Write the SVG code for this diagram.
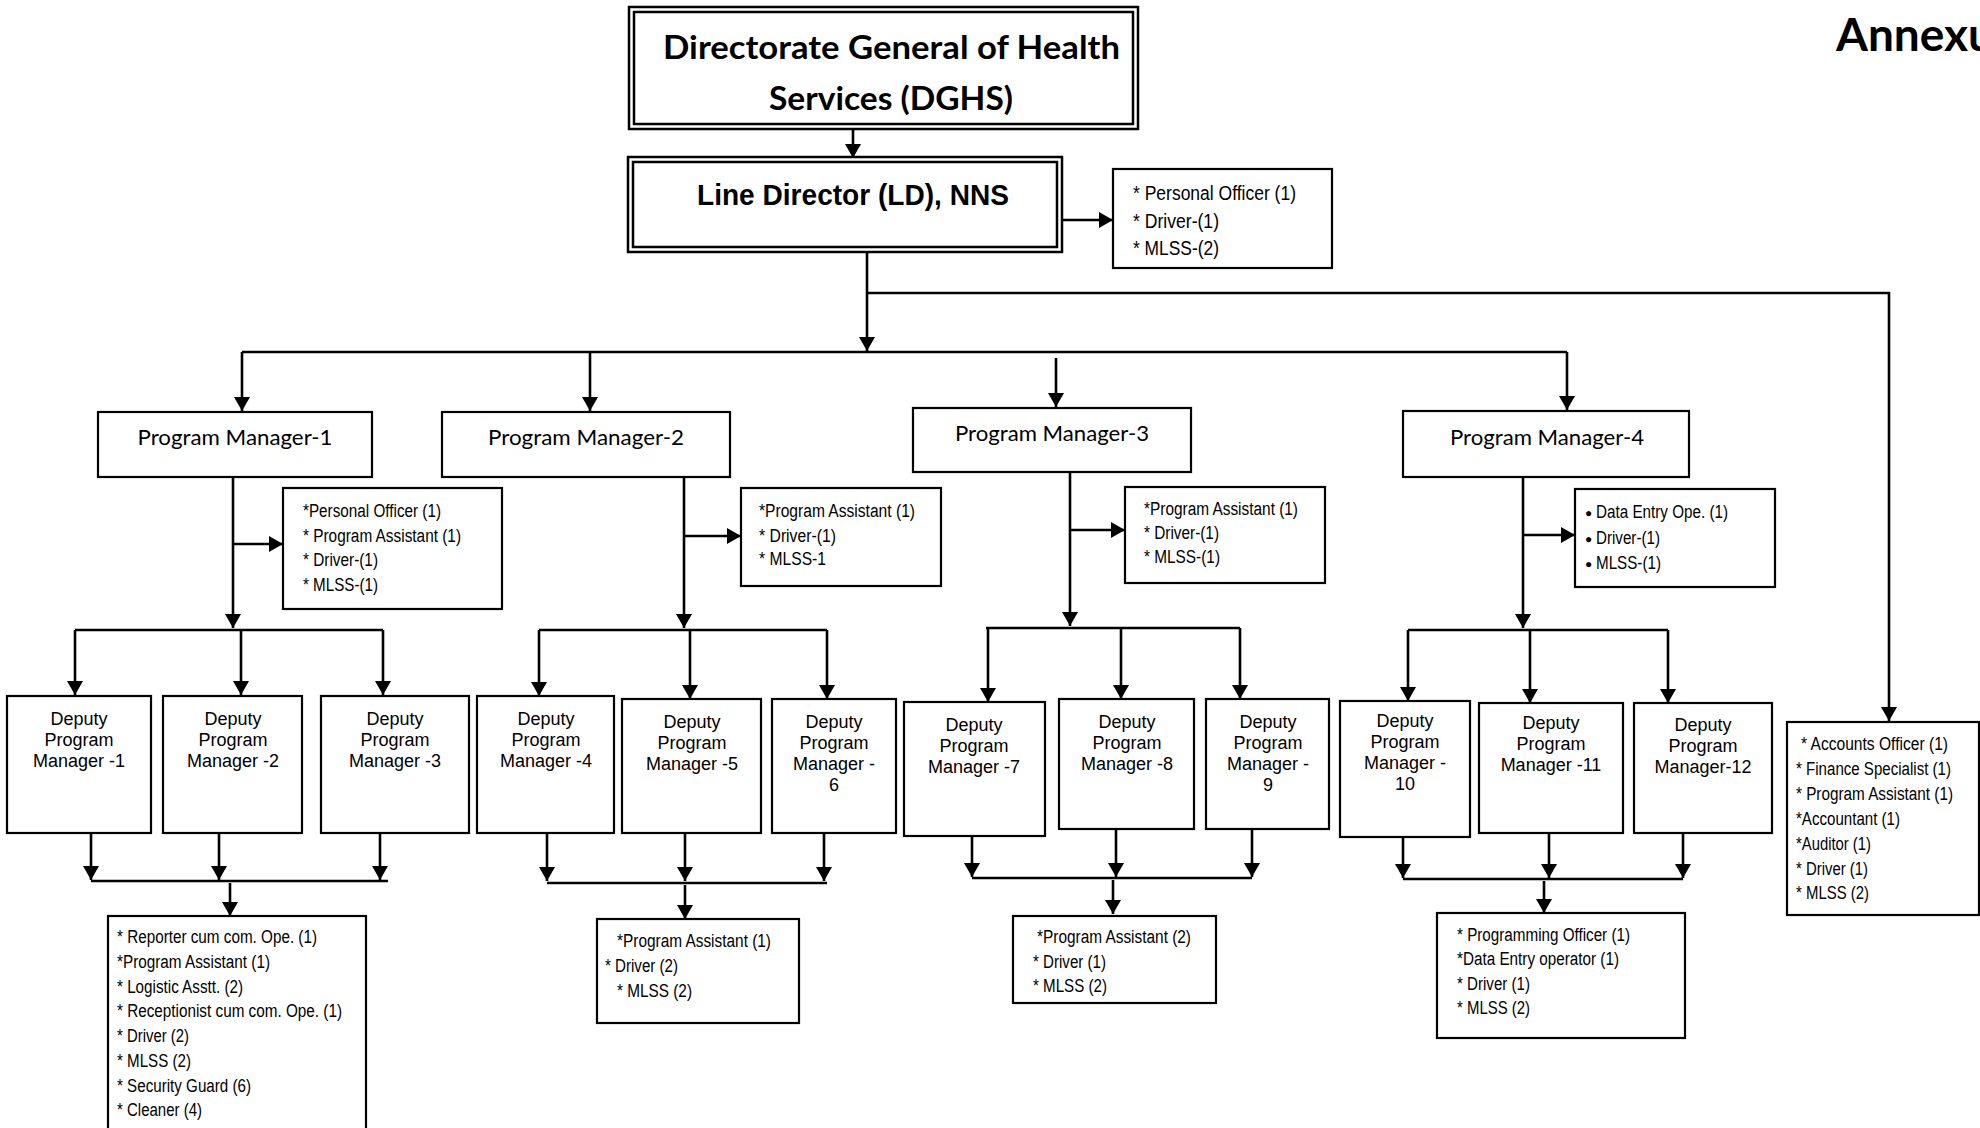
<svg xmlns="http://www.w3.org/2000/svg" width="1980" height="1128" viewBox="0 0 1980 1128">
<style>
  .bg{fill:#fff}
  .box{fill:#fff;stroke:#000;stroke-width:2.2}
  .dbl{fill:none;stroke:#000;stroke-width:2.5}
  .ln{fill:none;stroke:#000;stroke-width:2.6}
  .arr{fill:none;stroke:#000;stroke-width:2.6;marker-end:url(#ah)}
  .title{font-family:Lato,"Open Sans","Liberation Sans",sans-serif;font-weight:bold;fill:#000}
  .ld{font-family:"Liberation Sans Narrow","Arial Narrow","Liberation Sans",sans-serif;font-weight:bold;font-size:30px;fill:#000}
  .pm{font-family:Lato,"Open Sans","Liberation Sans",sans-serif;font-size:22px;fill:#000;text-anchor:middle}
  .dpm{font-family:"Liberation Sans",Arial,sans-serif;font-size:18px;fill:#000;text-anchor:middle}
  .sm{font-family:"Liberation Sans Narrow","Arial Narrow","Liberation Sans",sans-serif;font-size:18px;fill:#000}
  .sm19{font-family:"Liberation Sans Narrow","Arial Narrow","Liberation Sans",sans-serif;font-size:20px;fill:#000}
  .bul{font-family:"Liberation Sans",sans-serif;font-size:12px;fill:#000}
</style>
<defs>
  <marker id="ah" viewBox="0 0 14 16" refX="14" refY="8" markerWidth="14" markerHeight="16" markerUnits="userSpaceOnUse" orient="auto">
    <path d="M0,0 L14,8 L0,16 z" fill="#000"/>
  </marker>
</defs>
<rect class="bg" x="0" y="0" width="1980" height="1128"/>

<text class="title" x="1836" y="51" font-size="46">Annexure</text>

<g id="connectors">
  <path class="arr" d="M853,130 V158"/>
  <path class="arr" d="M1062,220 H1113"/>
  <path class="arr" d="M867,252 V351"/>
  <path class="arr" d="M867,293 H1889 V721"/>
  <path class="ln" d="M242,352 H1567"/>
  <path class="arr" d="M242,352 V411"/>
  <path class="arr" d="M590,352 V411"/>
  <path class="arr" d="M1056,358 V407"/>
  <path class="arr" d="M1567,352 V410"/>

  <path class="arr" d="M233,477 V628"/>
  <path class="arr" d="M233,544 H283"/>
  <path class="ln" d="M75,630 H383"/>
  <path class="arr" d="M75,630 V695"/>
  <path class="arr" d="M241,630 V695"/>
  <path class="arr" d="M383,630 V695"/>

  <path class="arr" d="M684,477 V628"/>
  <path class="arr" d="M684,536 H741"/>
  <path class="ln" d="M539,630 H827"/>
  <path class="arr" d="M539,630 V696"/>
  <path class="arr" d="M690,630 V699"/>
  <path class="arr" d="M827,630 V699"/>

  <path class="arr" d="M1070,472 V626"/>
  <path class="arr" d="M1070,530 H1125"/>
  <path class="ln" d="M986,628 H1240"/>
  <path class="arr" d="M988,628 V702"/>
  <path class="arr" d="M1121,628 V699"/>
  <path class="arr" d="M1240,628 V699"/>

  <path class="arr" d="M1523,477 V628"/>
  <path class="arr" d="M1523,535 H1575"/>
  <path class="ln" d="M1408,630 H1668"/>
  <path class="arr" d="M1408,630 V701"/>
  <path class="arr" d="M1530,630 V703"/>
  <path class="arr" d="M1668,630 V703"/>

  <path class="arr" d="M91,833 V880"/>
  <path class="arr" d="M219,833 V880"/>
  <path class="arr" d="M380,833 V880"/>
  <path class="ln" d="M91,881 H388"/>
  <path class="arr" d="M230,883 V916"/>

  <path class="arr" d="M547,833 V881"/>
  <path class="arr" d="M685,833 V881"/>
  <path class="arr" d="M824,833 V881"/>
  <path class="ln" d="M547,883 H827"/>
  <path class="arr" d="M685,885 V919"/>

  <path class="arr" d="M972,836 V877"/>
  <path class="arr" d="M1116,829 V877"/>
  <path class="arr" d="M1252,829 V877"/>
  <path class="ln" d="M972,878 H1252"/>
  <path class="arr" d="M1113,880 V914"/>

  <path class="arr" d="M1403,837 V878"/>
  <path class="arr" d="M1549,833 V878"/>
  <path class="arr" d="M1683,833 V878"/>
  <path class="ln" d="M1403,879 H1683"/>
  <path class="arr" d="M1544,881 V913"/>
</g>

<g id="dghs">
  <rect class="dbl" x="629" y="7" width="509" height="122"/>
  <rect class="dbl" x="634" y="12" width="499" height="112" stroke-width="2"/>
  <text class="title" x="663" y="59" font-size="33" textLength="457" lengthAdjust="spacingAndGlyphs">Directorate General of Health</text>
  <text class="title" x="769" y="110" font-size="33" textLength="244" lengthAdjust="spacingAndGlyphs">Services (DGHS)</text>
</g>

<g id="line-director">
  <rect class="dbl" x="628" y="157" width="434" height="95"/>
  <rect class="dbl" x="633" y="162" width="424" height="85" stroke-width="2"/>
  <text class="ld" x="697" y="205" textLength="312" lengthAdjust="spacingAndGlyphs">Line Director (LD), NNS</text>
</g>

<g id="ld-staff">
  <rect class="box" x="1113" y="169" width="219" height="99"/>
  <text class="sm19" x="1133" y="200" textLength="163" lengthAdjust="spacingAndGlyphs">* Personal Officer (1)</text>
  <text class="sm19" x="1133" y="228" textLength="86" lengthAdjust="spacingAndGlyphs">* Driver-(1)</text>
  <text class="sm19" x="1133" y="255" textLength="86" lengthAdjust="spacingAndGlyphs">* MLSS-(2)</text>
</g>

<g id="pm1">
  <rect class="box" x="98" y="412" width="274" height="65"/>
  <text class="pm" x="235" y="445" textLength="195" lengthAdjust="spacingAndGlyphs">Program Manager-1</text>
</g>
<g id="pm2">
  <rect class="box" x="442" y="412" width="288" height="65"/>
  <text class="pm" x="586" y="445" textLength="196" lengthAdjust="spacingAndGlyphs">Program Manager-2</text>
</g>
<g id="pm3">
  <rect class="box" x="913" y="408" width="278" height="64"/>
  <text class="pm" x="1052" y="441" textLength="194" lengthAdjust="spacingAndGlyphs">Program Manager-3</text>
</g>
<g id="pm4">
  <rect class="box" x="1403" y="411" width="286" height="66"/>
  <text class="pm" x="1547" y="445" textLength="194" lengthAdjust="spacingAndGlyphs">Program Manager-4</text>
</g>

<g id="pm1-staff">
  <rect class="box" x="283" y="488" width="219" height="121"/>
  <text class="sm" x="303" y="517" textLength="138" lengthAdjust="spacingAndGlyphs">*Personal Officer (1)</text>
  <text class="sm" x="303" y="542" textLength="158" lengthAdjust="spacingAndGlyphs">* Program Assistant (1)</text>
  <text class="sm" x="303" y="566" textLength="75" lengthAdjust="spacingAndGlyphs">* Driver-(1)</text>
  <text class="sm" x="303" y="591" textLength="75" lengthAdjust="spacingAndGlyphs">* MLSS-(1)</text>
</g>
<g id="pm2-staff">
  <rect class="box" x="741" y="488" width="200" height="98"/>
  <text class="sm" x="759" y="517" textLength="156" lengthAdjust="spacingAndGlyphs">*Program Assistant (1)</text>
  <text class="sm" x="759" y="542" textLength="77" lengthAdjust="spacingAndGlyphs">* Driver-(1)</text>
  <text class="sm" x="759" y="565" textLength="67" lengthAdjust="spacingAndGlyphs">* MLSS-1</text>
</g>
<g id="pm3-staff">
  <rect class="box" x="1125" y="487" width="200" height="96"/>
  <text class="sm" x="1144" y="515" textLength="154" lengthAdjust="spacingAndGlyphs">*Program Assistant (1)</text>
  <text class="sm" x="1144" y="539" textLength="75" lengthAdjust="spacingAndGlyphs">* Driver-(1)</text>
  <text class="sm" x="1144" y="563" textLength="76" lengthAdjust="spacingAndGlyphs">* MLSS-(1)</text>
</g>
<g id="pm4-staff">
  <rect class="box" x="1575" y="489" width="200" height="98"/>
  <text class="bul" x="1585" y="517">●</text>
  <text class="sm" x="1596" y="518" textLength="132" lengthAdjust="spacingAndGlyphs">Data Entry Ope. (1)</text>
  <text class="bul" x="1585" y="543">●</text>
  <text class="sm" x="1596" y="544" textLength="64" lengthAdjust="spacingAndGlyphs">Driver-(1)</text>
  <text class="bul" x="1585" y="568">●</text>
  <text class="sm" x="1596" y="569" textLength="65" lengthAdjust="spacingAndGlyphs">MLSS-(1)</text>
</g>

<g id="dpm1"><rect class="box" x="7" y="696" width="144" height="137"/>
  <text class="dpm" x="79" y="725">Deputy</text><text class="dpm" x="79" y="746">Program</text><text class="dpm" x="79" y="767">Manager -1</text></g>
<g id="dpm2"><rect class="box" x="163" y="696" width="139" height="137"/>
  <text class="dpm" x="233" y="725">Deputy</text><text class="dpm" x="233" y="746">Program</text><text class="dpm" x="233" y="767">Manager -2</text></g>
<g id="dpm3"><rect class="box" x="321" y="696" width="148" height="137"/>
  <text class="dpm" x="395" y="725">Deputy</text><text class="dpm" x="395" y="746">Program</text><text class="dpm" x="395" y="767">Manager -3</text></g>
<g id="dpm4"><rect class="box" x="477" y="696" width="137" height="137"/>
  <text class="dpm" x="546" y="725">Deputy</text><text class="dpm" x="546" y="746">Program</text><text class="dpm" x="546" y="767">Manager -4</text></g>
<g id="dpm5"><rect class="box" x="622" y="699" width="139" height="134"/>
  <text class="dpm" x="692" y="728">Deputy</text><text class="dpm" x="692" y="749">Program</text><text class="dpm" x="692" y="770">Manager -5</text></g>
<g id="dpm6"><rect class="box" x="772" y="699" width="124" height="134"/>
  <text class="dpm" x="834" y="728">Deputy</text><text class="dpm" x="834" y="749">Program</text><text class="dpm" x="834" y="770">Manager -</text><text class="dpm" x="834" y="791">6</text></g>
<g id="dpm7"><rect class="box" x="904" y="702" width="141" height="134"/>
  <text class="dpm" x="974" y="731">Deputy</text><text class="dpm" x="974" y="752">Program</text><text class="dpm" x="974" y="773">Manager -7</text></g>
<g id="dpm8"><rect class="box" x="1059" y="699" width="135" height="130"/>
  <text class="dpm" x="1127" y="728">Deputy</text><text class="dpm" x="1127" y="749">Program</text><text class="dpm" x="1127" y="770">Manager -8</text></g>
<g id="dpm9"><rect class="box" x="1206" y="699" width="123" height="130"/>
  <text class="dpm" x="1268" y="728">Deputy</text><text class="dpm" x="1268" y="749">Program</text><text class="dpm" x="1268" y="770">Manager -</text><text class="dpm" x="1268" y="791">9</text></g>
<g id="dpm10"><rect class="box" x="1340" y="701" width="130" height="136"/>
  <text class="dpm" x="1405" y="727">Deputy</text><text class="dpm" x="1405" y="748">Program</text><text class="dpm" x="1405" y="769">Manager -</text><text class="dpm" x="1405" y="790">10</text></g>
<g id="dpm11"><rect class="box" x="1479" y="703" width="144" height="130"/>
  <text class="dpm" x="1551" y="729">Deputy</text><text class="dpm" x="1551" y="750">Program</text><text class="dpm" x="1551" y="771">Manager -11</text></g>
<g id="dpm12"><rect class="box" x="1634" y="703" width="138" height="130"/>
  <text class="dpm" x="1703" y="731">Deputy</text><text class="dpm" x="1703" y="752">Program</text><text class="dpm" x="1703" y="773">Manager-12</text></g>

<g id="group1-staff">
  <rect class="box" x="108" y="916" width="258" height="230"/>
  <text class="sm" x="117" y="943" textLength="200" lengthAdjust="spacingAndGlyphs">* Reporter cum com. Ope. (1)</text>
  <text class="sm" x="117" y="968" textLength="153" lengthAdjust="spacingAndGlyphs">*Program Assistant (1)</text>
  <text class="sm" x="117" y="993" textLength="126" lengthAdjust="spacingAndGlyphs">* Logistic Asstt. (2)</text>
  <text class="sm" x="117" y="1017" textLength="225" lengthAdjust="spacingAndGlyphs">* Receptionist cum com. Ope. (1)</text>
  <text class="sm" x="117" y="1042" textLength="72" lengthAdjust="spacingAndGlyphs">* Driver (2)</text>
  <text class="sm" x="117" y="1067" textLength="74" lengthAdjust="spacingAndGlyphs">* MLSS (2)</text>
  <text class="sm" x="117" y="1092" textLength="134" lengthAdjust="spacingAndGlyphs">* Security Guard (6)</text>
  <text class="sm" x="117" y="1116" textLength="85" lengthAdjust="spacingAndGlyphs">* Cleaner (4)</text>
</g>
<g id="group2-staff">
  <rect class="box" x="597" y="919" width="202" height="104"/>
  <text class="sm" x="617" y="947" textLength="154" lengthAdjust="spacingAndGlyphs">*Program Assistant (1)</text>
  <text class="sm" x="605" y="972" textLength="73" lengthAdjust="spacingAndGlyphs">* Driver (2)</text>
  <text class="sm" x="617" y="997" textLength="75" lengthAdjust="spacingAndGlyphs">* MLSS (2)</text>
</g>
<g id="group3-staff">
  <rect class="box" x="1013" y="916" width="203" height="87"/>
  <text class="sm" x="1037" y="943" textLength="154" lengthAdjust="spacingAndGlyphs">*Program Assistant (2)</text>
  <text class="sm" x="1033" y="968" textLength="73" lengthAdjust="spacingAndGlyphs">* Driver (1)</text>
  <text class="sm" x="1033" y="992" textLength="74" lengthAdjust="spacingAndGlyphs">* MLSS (2)</text>
</g>
<g id="group4-staff">
  <rect class="box" x="1437" y="913" width="248" height="125"/>
  <text class="sm" x="1457" y="941" textLength="173" lengthAdjust="spacingAndGlyphs">* Programming Officer (1)</text>
  <text class="sm" x="1457" y="965" textLength="162" lengthAdjust="spacingAndGlyphs">*Data Entry operator (1)</text>
  <text class="sm" x="1457" y="990" textLength="73" lengthAdjust="spacingAndGlyphs">* Driver (1)</text>
  <text class="sm" x="1457" y="1014" textLength="73" lengthAdjust="spacingAndGlyphs">* MLSS (2)</text>
</g>
<g id="accounts-staff">
  <rect class="box" x="1787" y="722" width="192" height="193"/>
  <text class="sm" x="1801" y="750" textLength="147" lengthAdjust="spacingAndGlyphs">* Accounts Officer (1)</text>
  <text class="sm" x="1796" y="775" textLength="155" lengthAdjust="spacingAndGlyphs">* Finance Specialist (1)</text>
  <text class="sm" x="1796" y="800" textLength="157" lengthAdjust="spacingAndGlyphs">* Program Assistant (1)</text>
  <text class="sm" x="1796" y="825" textLength="104" lengthAdjust="spacingAndGlyphs">*Accountant (1)</text>
  <text class="sm" x="1796" y="850" textLength="75" lengthAdjust="spacingAndGlyphs">*Auditor (1)</text>
  <text class="sm" x="1796" y="875" textLength="72" lengthAdjust="spacingAndGlyphs">* Driver (1)</text>
  <text class="sm" x="1796" y="899" textLength="73" lengthAdjust="spacingAndGlyphs">* MLSS (2)</text>
</g>
</svg>
